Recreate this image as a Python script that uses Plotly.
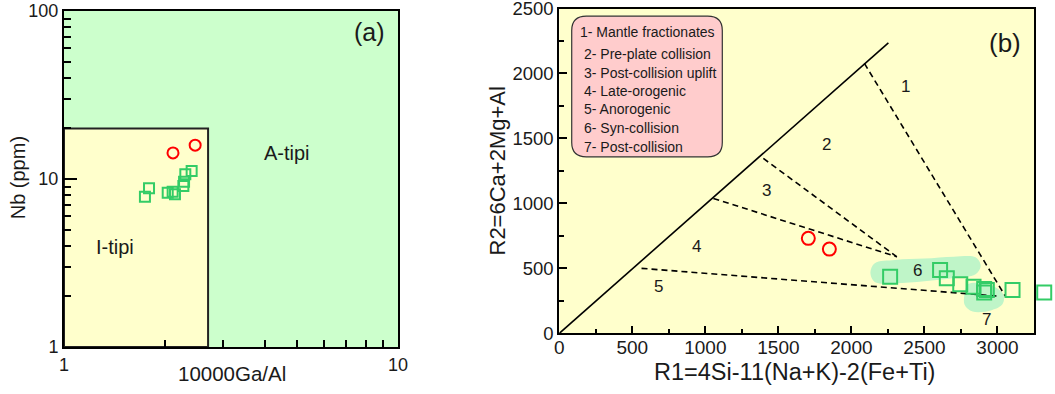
import plotly.graph_objects as go
import math

# ---------------- data ----------------
# Panel (a): 10000Ga/Al vs Nb
a_circle_x = [2.12, 2.47]
a_circle_y = [14.3, 15.9]
a_square_x = [1.747, 1.797, 2.044, 2.115, 2.149, 2.277, 2.288, 2.308, 2.411]
a_square_y = [7.85, 8.80, 8.29, 8.40, 8.11, 9.08, 9.64, 10.66, 11.16]
itype_box_x = [1, 2.7, 2.7, 1, 1]
itype_box_y = [1, 1, 20, 20, 1]

# Panel (b): R1 vs R2
b_circle_x = [1705, 1849]
b_circle_y = [731, 648]
b_square_x = [2265, 2607, 2653, 2745, 2836, 2909, 2927, 2909, 3103]
b_square_y = [435, 487, 423, 377, 359, 341, 333, 315, 333]
b_square_out_x = [3320]
b_square_out_y = [315]

solid_line_x = [0, 2253]
solid_line_y = [0, 2235]
dash_lines = [
    ([2089, 3053], [2077, 287]),
    ([1397, 2311], [1346, 589]),
    ([1055, 2311], [1038, 589]),
    ([563, 2996], [500, 287]),
]
field6_x = [2130, 2160, 2300, 2500, 2700, 2850, 2885, 2850, 2700, 2500, 2300, 2160, 2130]
field6_y = [470, 540, 565, 575, 590, 585, 520, 455, 425, 400, 385, 395, 470]
field7_x = [2780, 2800, 2950, 3040, 3035, 2960, 2830, 2775, 2780]
field7_y = [330, 380, 372, 300, 225, 178, 168, 220, 330]

legend_lines = ["1- Mantle fractionates", "2- Pre-plate collision", "3- Post-collision uplift",
                "4- Late-orogenic", "5- Anorogenic", "6- Syn-collision", "7- Post-collision"]
legend_y = [2320, 2146, 2000, 1864, 1723, 1582, 1435]
region_labels = ["1", "2", "3", "4", "5", "6", "7"]
region_x = [2368, 1827, 1420, 941, 681, 2452, 2927]
region_y = [1902, 1456, 1102, 666, 364, 482, 110]

GREEN = "#33cc66"
RED = "#ff0000"
FONT = "Liberation Sans, Arial, sans-serif"
TXT = "#1a1a1a"

# pixel layout of the two plot areas
AX_L = (64, 398, 11, 347)          # left, right, top, bottom
AX_R = (559.3, 1034, 8.5, 333.3)
X2_MAX = 3250
W, H = 1055, 394

fig = go.Figure()

# ---- panel (a) ----
fig.add_trace(go.Scatter(x=itype_box_x, y=itype_box_y, mode="lines", fill="toself",
                         fillcolor="#ffffcc", line=dict(color="#222222", width=2),
                         xaxis="x", yaxis="y", showlegend=False, hoverinfo="skip"))
fig.add_trace(go.Scatter(x=a_square_x, y=a_square_y, mode="markers",
                         marker=dict(symbol="square-open", size=10, color=GREEN, line=dict(width=2)),
                         xaxis="x", yaxis="y", showlegend=False))
fig.add_trace(go.Scatter(x=a_circle_x, y=a_circle_y, mode="markers",
                         marker=dict(symbol="circle-open", size=11, color=RED, line=dict(width=2)),
                         xaxis="x", yaxis="y", showlegend=False))

# ---- panel (b) ----
for fx, fy in [(field6_x, field6_y), (field7_x, field7_y)]:
    fig.add_trace(go.Scatter(x=fx, y=fy, mode="lines", fill="toself", fillcolor="#bff5c8",
                             line=dict(width=0, color="#bff5c8", shape="spline"),
                             xaxis="x2", yaxis="y2", showlegend=False, hoverinfo="skip"))
fig.add_trace(go.Scatter(x=solid_line_x, y=solid_line_y, mode="lines",
                         line=dict(color="black", width=1.6),
                         xaxis="x2", yaxis="y2", showlegend=False))
for lx, ly in dash_lines:
    fig.add_trace(go.Scatter(x=lx, y=ly, mode="lines",
                             line=dict(color="black", width=1.6, dash="6px,4px"),
                             xaxis="x2", yaxis="y2", showlegend=False))
fig.add_trace(go.Scatter(x=b_square_x, y=b_square_y, mode="markers",
                         marker=dict(symbol="square-open", size=14, color=GREEN, line=dict(width=2)),
                         xaxis="x2", yaxis="y2", showlegend=False))
# sample plotted beyond the right frame: same scale, extended hidden axis
fig.add_trace(go.Scatter(x=b_square_out_x, y=b_square_out_y, mode="markers", cliponaxis=False,
                         marker=dict(symbol="square-open", size=14, color=GREEN, line=dict(width=2)),
                         xaxis="x3", yaxis="y2", showlegend=False))
fig.add_trace(go.Scatter(x=b_circle_x, y=b_circle_y, mode="markers",
                         marker=dict(symbol="circle-open", size=13, color=RED, line=dict(width=2)),
                         xaxis="x2", yaxis="y2", showlegend=False))

# backgrounds
shapes = [
    dict(type="rect", xref="x domain", yref="y domain", x0=0, x1=1, y0=0, y1=1,
         fillcolor="#ccffcc", line=dict(width=0), layer="below"),
    dict(type="rect", xref="x2 domain", yref="y2 domain", x0=0, x1=1, y0=0, y1=1,
         fillcolor="#ffffcc", line=dict(width=0), layer="below"),
]
# rounded legend box in panel (b) data units
bx0, bx1, by0, by1 = 85, 1116, 1358, 2441
rx, ry = 100, 110
path = (f"M {bx0+rx},{by1} L {bx1-rx},{by1} Q {bx1},{by1} {bx1},{by1-ry} "
        f"L {bx1},{by0+ry} Q {bx1},{by0} {bx1-rx},{by0} L {bx0+rx},{by0} "
        f"Q {bx0},{by0} {bx0},{by0+ry} L {bx0},{by1-ry} Q {bx0},{by1} {bx0+rx},{by1} Z")
shapes.append(dict(type="path", xref="x2", yref="y2", path=path, fillcolor="#ffcccc",
                   line=dict(color="#333333", width=1.2), layer="above"))

ann = []
# legend text
for i, (t, yy) in enumerate(zip(legend_lines, legend_y)):
    ann.append(dict(x=130 if i == 0 else 155, y=yy, xref="x2", yref="y2", text=t, showarrow=False,
                    xanchor="left", yanchor="middle", font=dict(size=14, family=FONT, color=TXT)))
for t, xx, yy in zip(region_labels, region_x, region_y):
    ann.append(dict(x=xx, y=yy, xref="x2", yref="y2", text=t, showarrow=False,
                    font=dict(size=17, family=FONT, color=TXT)))
ann.append(dict(x=3053, y=2237, xref="x2", yref="y2", text="(b)", showarrow=False,
                font=dict(size=26, family=FONT, color=TXT)))
# panel (a) labels (log coordinates)
ann.append(dict(x=math.log10(8.2), y=math.log10(74.6), xref="x", yref="y", text="(a)", showarrow=False,
                font=dict(size=25, family=FONT, color=TXT)))
ann.append(dict(x=math.log10(4.66), y=math.log10(14.3), xref="x", yref="y", text="A-tipi", showarrow=False,
                font=dict(size=20, family=FONT, color=TXT)))
ann.append(dict(x=math.log10(1.42), y=math.log10(3.92), xref="x", yref="y", text="I-tipi", showarrow=False,
                font=dict(size=20, family=FONT, color=TXT)))
# axis titles
title_common = dict(xref="paper", yref="paper", showarrow=False, xanchor="center", yanchor="middle")
ann.append(dict(x=231.5/W, y=1-373/H, text="10000Ga/Al",
                font=dict(size=20.5, family=FONT, color=TXT), **title_common))
ann.append(dict(x=18.3/W, y=1-178/H, text="Nb (ppm)", textangle=-90,
                font=dict(size=20, family=FONT, color=TXT), **title_common))
ann.append(dict(x=794.8/W, y=1-372/H, text="R1=4Si-11(Na+K)-2(Fe+Ti)",
                font=dict(size=23.5, family=FONT, color=TXT), **title_common))
ann.append(dict(x=497/W, y=1-171.5/H, text="R2=6Ca+2Mg+Al", textangle=-90,
                font=dict(size=22, family=FONT, color=TXT), **title_common))

axis_common = dict(showline=True, linecolor="black", linewidth=2, mirror=True, showgrid=False,
                   zeroline=False, ticks="inside", tickcolor="black", tickwidth=1.5, automargin=False,
                   ticklabeloverflow="allow")

x3_max = X2_MAX * (W - AX_R[0]) / (AX_R[1] - AX_R[0])

fig.update_layout(
    width=W, height=H,
    margin=dict(l=0, r=0, t=0, b=0),
    paper_bgcolor="white", plot_bgcolor="rgba(0,0,0,0)",
    font=dict(family=FONT, color=TXT),
    xaxis=dict(domain=[AX_L[0]/W, AX_L[1]/W], type="log", range=[0, 1], tickvals=[1, 10], ticktext=["1", "10"],
               ticklen=13, tickfont=dict(size=18), anchor="y",
               minor=dict(ticks="inside", ticklen=7, tickvals=[2, 3, 4, 5, 6, 7, 8, 9], tickcolor="black"),
               **axis_common),
    yaxis=dict(domain=[1-AX_L[3]/H, 1-AX_L[2]/H], type="log", range=[0, 2], tickvals=[1, 10, 100],
               ticktext=["1", "10", "100"], ticklen=13, tickfont=dict(size=18), anchor="x",
               minor=dict(ticks="inside", ticklen=7, tickvals=[2, 3, 4, 5, 6, 7, 8, 9, 20, 30, 40, 50, 60, 70, 80, 90],
                          tickcolor="black"),
               **axis_common),
    xaxis2=dict(domain=[AX_R[0]/W, AX_R[1]/W], range=[0, X2_MAX], tickvals=[0, 500, 1000, 1500, 2000, 2500, 3000],
                ticklen=7, tickfont=dict(size=19), anchor="y2", ticklabelstandoff=-4,
                minor=dict(ticks="inside", ticklen=4, dtick=250, tickcolor="black"),
                **axis_common),
    xaxis3=dict(domain=[AX_R[0]/W, 1.0], range=[0, x3_max], visible=False, anchor="y2",
                showgrid=False, zeroline=False),
    yaxis2=dict(domain=[1-AX_R[3]/H, 1-AX_R[2]/H], range=[0, 2500], tickvals=[0, 500, 1000, 1500, 2000, 2500],
                ticklen=8, tickfont=dict(size=18.5), anchor="x2",
                minor=dict(ticks="inside", ticklen=5, dtick=250, tickcolor="black"),
                **axis_common),
    shapes=shapes,
    annotations=ann,
)

fig.write_html("out.html")
